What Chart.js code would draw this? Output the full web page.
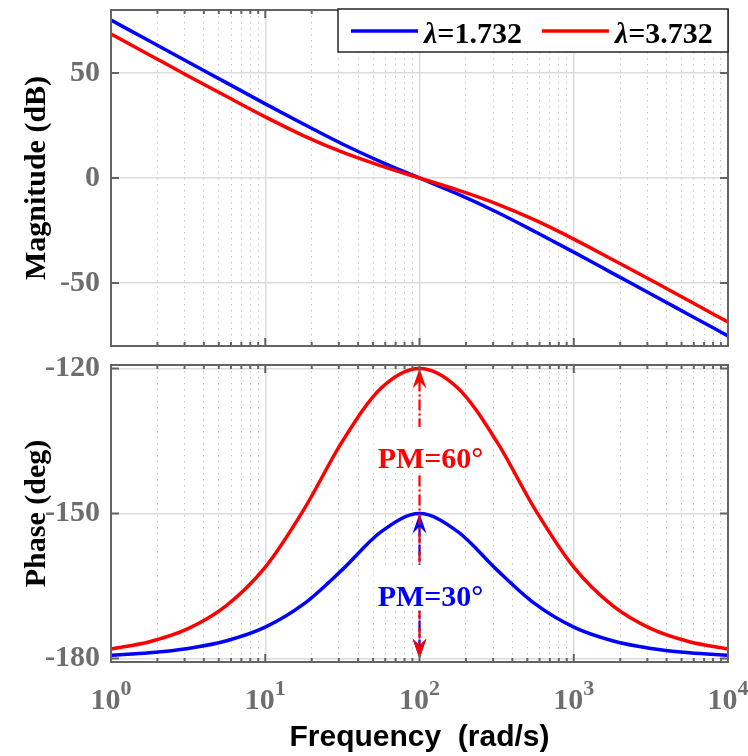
<!DOCTYPE html>
<html>
<head>
<meta charset="utf-8">
<script src="https://cdn.jsdelivr.net/npm/chart.js@4/dist/chart.umd.min.js"></script>
<style>
  body { margin: 0; background: #fff; }
  #wrap { position: relative; width: 748px; height: 756px; overflow: hidden; }
  canvas { position: absolute; left: 0; }
  #mag { top: 0; }
  #phase { top: 350px; }
</style>
</head>
<body>
<div id="wrap">
  <canvas id="mag" width="748" height="350"></canvas>
  <canvas id="phase" width="748" height="406"></canvas>
</div>
<script>
// frequency points (rad/s), quarter decades
const freq = [1, 1.778, 3.162, 5.623, 10, 17.78, 31.62, 56.23, 100, 177.8, 316.2, 562.3, 1000, 1778, 3162, 5623, 10000];
// magnitude (dB)
const magA = [75.2, 65.2, 55.2, 45.3, 35.3, 25.6, 16.2, 7.7, 0, -7.7, -16.2, -25.6, -35.3, -45.3, -55.2, -65.2, -75.2];
const magB = [68.6, 58.6, 48.6, 38.8, 29.1, 20.1, 12.3, 5.8, 0, -5.8, -12.3, -20.1, -29.1, -38.8, -48.6, -58.6, -68.6];
// phase (deg)
const phaseA = [-179.3, -178.8, -177.9, -176.3, -173.5, -168.7, -161.6, -153.8, -150, -153.8, -161.6, -168.7, -173.5, -176.3, -177.9, -178.8, -179.3];
const phaseB = [-178.0, -176.5, -173.8, -169.0, -161.1, -149.2, -135.1, -124.1, -120, -124.1, -135.1, -149.2, -161.1, -169.0, -173.8, -176.5, -178.0];

const seriesNames = ['λ=1.732', 'λ=3.732'];
const seriesColors = ['#0000ff', '#ff0000'];
const decades = [1, 10, 100, 1000, 10000];
const magTicks = [-50, 0, 50];
const phaseTicks = [-180, -150, -120];

// phase margin marks
const pmFreq = 100;
const pmBottom = -180;
const pmTop = [-150, -120];
const pmLabels = ['PM=30°', 'PM=60°'];
const pmLabelAt = [-166.8, -138.3];

const SERIF = '"Liberation Serif", "Times New Roman", serif';
Chart.defaults.font.family = SERIF;

function pts(ys) {
  return freq.map((f, i) => ({x: f, y: ys[i]}));
}

function logTicks() {
  let t = [];
  decades.forEach((d, i) => {
    t.push({value: d, major: true});
    if (i < decades.length - 1) {
      for (let m = 2; m < 10; m++) t.push({value: d * m, major: false});
    }
  });
  return t;
}

function xScale(height, title) {
  return {
    type: 'logarithmic',
    min: 1,
    max: 10000,
    afterBuildTicks: s => { s.ticks = logTicks(); },
    afterFit: s => { s.height = height; s.paddingLeft = 0; s.paddingRight = 0; },
    ticks: { display: false, autoSkip: false },
    grid: {
      drawTicks: false,
      color: c => (c.tick && c.tick.major) ? '#dcdcdc' : '#c6c6c6',
      lineWidth: c => (c.tick && c.tick.major) ? 1.5 : 1
    },
    border: { display: false, dash: c => (c.tick && c.tick.major) ? [] : [1.5, 4.5] },
    title: {
      display: !!title,
      text: title || '',
      color: '#000',
      font: { family: '"Liberation Sans", Arial, sans-serif', size: 30, weight: 'bold', lineHeight: 1 },
      padding: { top: 0, bottom: 3 }
    }
  };
}

function yScale(min, max, tickVals, title) {
  return {
    min: min,
    max: max,
    afterBuildTicks: s => { s.ticks = tickVals.map(v => ({value: v})); },
    afterFit: s => { s.width = 111; s.paddingTop = 0; s.paddingBottom = 0; },
    ticks: { color: '#6e6e6e', font: { size: 30, weight: 'bold' }, padding: 11, autoSkip: false },
    grid: { drawTicks: false, color: '#dcdcdc', lineWidth: 1.5 },
    border: { display: false },
    title: {
      display: true,
      text: title,
      color: '#000',
      font: { size: 30, weight: 'bold', lineHeight: 1 },
      padding: { top: 22, bottom: 0 }
    }
  };
}

// box with inward ticks, like the matlab axes
const framePlugin = {
  id: 'frame',
  afterDatasetsDraw(chart) {
    const {ctx, chartArea: a} = chart;
    const x = chart.scales.x, y = chart.scales.y;
    ctx.save();
    ctx.strokeStyle = '#646464';
    ctx.lineWidth = 2;
    ctx.beginPath();
    x.ticks.forEach(t => {
      const px = x.getPixelForValue(t.value);
      const len = t.major ? 8 : 4;
      ctx.moveTo(px, a.bottom); ctx.lineTo(px, a.bottom - len);
      ctx.moveTo(px, a.top); ctx.lineTo(px, a.top + len);
    });
    y.ticks.forEach(t => {
      const py = y.getPixelForValue(t.value);
      ctx.moveTo(a.left, py); ctx.lineTo(a.left + 8, py);
      ctx.moveTo(a.right, py); ctx.lineTo(a.right - 8, py);
    });
    ctx.stroke();
    ctx.strokeRect(a.left, a.top, a.right - a.left, a.bottom - a.top);
    ctx.restore();
  }
};

const legendPlugin = {
  id: 'lambdaLegend',
  afterDraw(chart) {
    const {ctx, chartArea: a} = chart;
    const l = a.right - 390, t = a.top - 1, h = 43;
    ctx.save();
    ctx.fillStyle = '#fff';
    ctx.fillRect(l, t, a.right - l, h);
    ctx.strokeStyle = '#262626';
    ctx.lineWidth = 1.5;
    ctx.strokeRect(l, t, a.right - l, h);
    let cx = l + 13;
    const midY = t + 22, base = t + 34;
    chart.data.datasets.forEach(ds => {
      ctx.strokeStyle = ds.borderColor;
      ctx.lineWidth = 3.5;
      ctx.beginPath();
      ctx.moveTo(cx, midY); ctx.lineTo(cx + 67, midY);
      ctx.stroke();
      cx += 73;
      ctx.fillStyle = '#000';
      ctx.textBaseline = 'alphabetic';
      ctx.textAlign = 'left';
      ctx.font = 'italic bold 30px ' + SERIF;
      const first = ds.label.charAt(0);
      ctx.fillText(first, cx, base);
      cx += ctx.measureText(first).width;
      ctx.font = 'bold 30px ' + SERIF;
      const rest = ds.label.slice(1);
      ctx.fillText(rest, cx, base);
      cx += ctx.measureText(rest).width + 20;
    });
    ctx.restore();
  }
};

function arrowHead(ctx, x, tipY, dir) {
  // dir = -1 pointing up, 1 pointing down
  ctx.beginPath();
  ctx.moveTo(x, tipY);
  ctx.lineTo(x - 7, tipY - dir * 20);
  ctx.lineTo(x, tipY - dir * 13);
  ctx.lineTo(x + 7, tipY - dir * 20);
  ctx.closePath();
  ctx.fill();
}

function labelBoxes(chart) {
  const ctx = chart.ctx;
  const x = chart.scales.x, y = chart.scales.y;
  ctx.font = 'bold 30px ' + SERIF;
  return pmLabels.map((s, i) => {
    const w = ctx.measureText(s).width;
    const cxm = x.getPixelForValue(pmFreq) + 11;
    const base = y.getPixelForValue(pmLabelAt[i]) + 11;
    return {text: s, w: w, x: cxm - w / 2, base: base, bx: cxm - w / 2 - 4, by: base - 41, bw: w + 8, bh: 46};
  });
}

const pmPlugin = {
  id: 'phaseMargin',
  beforeDatasetsDraw(chart) {
    const ctx = chart.ctx;
    ctx.save();
    ctx.fillStyle = '#fff';
    labelBoxes(chart).forEach(b => ctx.fillRect(b.bx, b.by, b.bw, b.bh));
    ctx.restore();
  },
  afterDatasetsDraw(chart) {
    const {ctx, chartArea: a} = chart;
    const x = chart.scales.x, y = chart.scales.y;
    const px = x.getPixelForValue(pmFreq);
    const yb = y.getPixelForValue(pmBottom);
    const boxes = labelBoxes(chart);
    ctx.save();
    // keep the arrows out of the label boxes
    ctx.beginPath();
    ctx.rect(0, 0, chart.width, chart.height);
    boxes.forEach(b => ctx.rect(b.bx, b.by, b.bw, b.bh));
    ctx.clip('evenodd');
    pmTop.forEach((v, i) => {
      const yt = y.getPixelForValue(v);
      ctx.strokeStyle = seriesColors[i];
      ctx.fillStyle = seriesColors[i];
      ctx.lineWidth = 2.2;
      ctx.setLineDash([11, 3, 2, 3]);
      ctx.beginPath();
      ctx.moveTo(px, yt + 12); ctx.lineTo(px, yb - 12);
      ctx.stroke();
      ctx.setLineDash([]);
      arrowHead(ctx, px, yt, -1);
      arrowHead(ctx, px, yb, 1);
    });
    ctx.restore();
    ctx.save();
    ctx.font = 'bold 30px ' + SERIF;
    ctx.textBaseline = 'alphabetic';
    ctx.textAlign = 'left';
    boxes.forEach((b, i) => {
      ctx.fillStyle = seriesColors[i];
      ctx.fillText(b.text, b.x, b.base);
    });
    ctx.restore();
  }
};

// 10^n labels under the phase axes
const decadeLabels = {
  id: 'decadeLabels',
  afterDraw(chart) {
    const {ctx, chartArea: a} = chart;
    const x = chart.scales.x;
    ctx.save();
    ctx.fillStyle = '#6e6e6e';
    ctx.textBaseline = 'alphabetic';
    ctx.textAlign = 'left';
    x.ticks.filter(t => t.major).forEach(t => {
      const px = x.getPixelForValue(t.value);
      const e = String(Math.round(Math.log10(t.value)));
      ctx.font = 'bold 30px ' + SERIF;
      const w1 = ctx.measureText('10').width;
      ctx.font = 'bold 22px ' + SERIF;
      const w2 = ctx.measureText(e).width;
      const x0 = px - (w1 + w2) / 2;
      ctx.font = 'bold 30px ' + SERIF;
      ctx.fillText('10', x0, a.bottom + 47);
      ctx.font = 'bold 22px ' + SERIF;
      ctx.fillText(e, x0 + w1, a.bottom + 33);
    });
    ctx.restore();
  }
};

function datasets(a, b) {
  return [
    { label: seriesNames[0], data: pts(a), borderColor: seriesColors[0], borderWidth: 3.5, pointRadius: 0, cubicInterpolationMode: 'monotone', order: 1 },
    { label: seriesNames[1], data: pts(b), borderColor: seriesColors[1], borderWidth: 3.5, pointRadius: 0, cubicInterpolationMode: 'monotone', order: 0 }
  ];
}

new Chart(document.getElementById('mag'), {
  type: 'line',
  data: { datasets: datasets(magA, magB) },
  options: {
    responsive: false,
    animation: false,
    layout: { padding: { top: 10, right: 20, bottom: 0, left: 0 } },
    plugins: { legend: { display: false }, tooltip: { enabled: false } },
    scales: {
      x: xScale(4),
      y: yScale(-80, 80, magTicks, 'Magnitude (dB)')
    }
  },
  plugins: [framePlugin, legendPlugin]
});

new Chart(document.getElementById('phase'), {
  type: 'line',
  data: { datasets: datasets(phaseA, phaseB) },
  options: {
    responsive: false,
    animation: false,
    layout: { padding: { top: 15, right: 20, bottom: 0, left: 0 } },
    plugins: { legend: { display: false }, tooltip: { enabled: false } },
    scales: {
      x: xScale(94, 'Frequency  (rad/s)'),
      y: yScale(-180.7, -119.3, phaseTicks, 'Phase (deg)')
    }
  },
  plugins: [pmPlugin, framePlugin, decadeLabels]
});
</script>
</body>
</html>
